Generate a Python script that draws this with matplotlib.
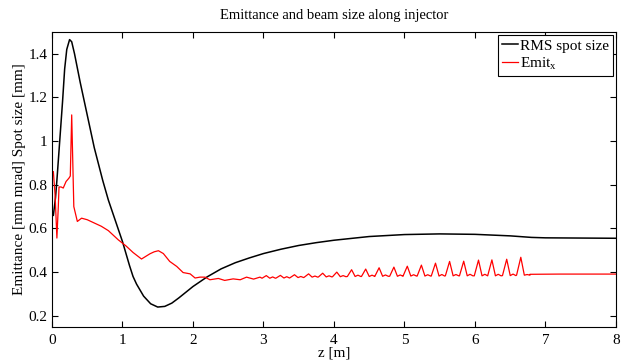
import matplotlib
matplotlib.use("Agg")
import matplotlib.pyplot as plt

plt.rcParams["font.family"] = ["Liberation Serif", "DejaVu Serif"]
plt.rcParams["mathtext.fontset"] = "custom"
plt.rcParams["mathtext.rm"] = "Liberation Serif"

# RMS spot size [mm] vs z [m]
rms_z = [0.02, 0.05, 0.07, 0.11, 0.15, 0.18, 0.21, 0.25, 0.28, 0.32, 0.4, 0.5,
         0.6, 0.72, 0.8, 0.9, 1.0, 1.1, 1.15, 1.2, 1.3, 1.4, 1.5, 1.6, 1.7, 1.8,
         1.9, 2.0, 2.2, 2.4, 2.6, 2.8, 3.0, 3.25, 3.5, 3.75, 4.0, 4.5, 5.0, 5.5,
         6.0, 6.5, 6.8, 7.0, 8.0]
rms_v = [0.66, 0.74, 0.82, 1.0, 1.18, 1.33, 1.42, 1.465, 1.455, 1.40, 1.27, 1.12,
         0.97, 0.82, 0.73, 0.635, 0.54, 0.43, 0.38, 0.345, 0.29, 0.255, 0.24, 0.243,
         0.258, 0.282, 0.308, 0.334, 0.378, 0.415, 0.443, 0.465, 0.485, 0.505,
         0.522, 0.535, 0.546, 0.563, 0.572, 0.575, 0.573, 0.566, 0.559, 0.557, 0.555]

# Emittance x [mm mrad], first part up to the ripples
emit_z = [0.02, 0.045, 0.07, 0.09, 0.1, 0.13, 0.16, 0.2, 0.24, 0.26, 0.28, 0.31,
          0.34, 0.36, 0.42, 0.5, 0.6, 0.7, 0.8, 0.94, 1.05, 1.15, 1.27, 1.39,
          1.45, 1.51, 1.58, 1.67, 1.77, 1.86, 1.96, 2.03, 2.1, 2.17, 2.24, 2.36,
          2.45, 2.57, 2.67, 2.76, 2.86, 2.95]
emit_v = [0.86, 0.75, 0.556, 0.70, 0.79, 0.79, 0.785, 0.815, 0.83, 0.84, 1.12, 0.70,
          0.66, 0.632, 0.647, 0.64, 0.625, 0.61, 0.59, 0.548, 0.52, 0.49, 0.46, 0.484,
          0.493, 0.498, 0.485, 0.449, 0.426, 0.398, 0.392, 0.373, 0.377, 0.377,
          0.365, 0.371, 0.362, 0.369, 0.365, 0.377, 0.368, 0.377]

# ripple section: peak positions and heights, trough / side-bump values after each
peak_z = [3.04, 3.24, 3.44, 3.64, 3.84, 4.04, 4.25, 4.45, 4.64, 4.85, 5.04, 5.24,
          5.44, 5.64, 5.84, 6.05, 6.24, 6.45, 6.65]
peak_v = [0.384, 0.385, 0.388, 0.392, 0.395, 0.400, 0.411, 0.414, 0.420, 0.423,
          0.427, 0.432, 0.441, 0.449, 0.450, 0.455, 0.456, 0.459, 0.468]
trough_v = [0.372, 0.373, 0.375, 0.377, 0.378, 0.379, 0.380, 0.380, 0.381, 0.381,
            0.382, 0.382, 0.382, 0.383, 0.383, 0.383, 0.383, 0.384, 0.386]
bump_v = [0.378, 0.379, 0.380, 0.382, 0.383, 0.384, 0.386, 0.386, 0.387, 0.387,
          0.388, 0.388, 0.389, 0.389, 0.390, 0.390, 0.390, 0.391, 0.389]

tail_z = [6.78, 7.2, 8.0]
tail_v = [0.390, 0.391, 0.391]

z2 = list(emit_z)
v2 = list(emit_v)
for pz, pv, tv, bv in zip(peak_z, peak_v, trough_v, bump_v):
    z2 += [pz - 0.06, pz, pz + 0.05, pz + 0.09, pz + 0.13]
    v2 += [tv, pv, tv, bv, tv]
z2 += tail_z
v2 += tail_v

fig = plt.figure(figsize=(6.26, 3.63), dpi=100)
ax = fig.add_axes([0.083, 0.100, 0.901, 0.812])
ax.plot(rms_z, rms_v, color="black", lw=1.1, label="RMS spot size")
ax.plot(z2, v2, color="#ff0000", lw=0.9, label="Emit$_{\\rm x}$")

ax.set_xlim(0, 8)
ax.set_ylim(0.15, 1.5)
ax.set_yticks([0.2, 0.4, 0.6, 0.8, 1.0, 1.2, 1.4])
ax.set_yticklabels(["0.2", "0.4", "0.6", "0.8", "1", "1.2", "1.4"])
ax.set_xticks(range(0, 9))
ax.tick_params(direction="in", top=True, right=True, length=4, width=0.8,
               labelsize=11)
ax.tick_params(axis="x", pad=5)
ax.tick_params(axis="y", pad=3)
for s in ax.spines.values():
    s.set_linewidth(0.8)

ax.set_title("Emittance and beam size along injector", fontsize=10.5, pad=9)
ax.set_xlabel("z [m]", fontsize=11, labelpad=0)
ax.set_ylabel("Emittance [mm mrad] Spot size [mm]", fontsize=11, labelpad=2)

leg = ax.legend(loc="upper right", fontsize=11, handlelength=1.05,
                handletextpad=0.15, borderpad=0.25, labelspacing=0.2,
                borderaxespad=0.2, fancybox=False, framealpha=1)
leg.get_frame().set_edgecolor("black")
leg.get_frame().set_linewidth(0.8)

fig.savefig("out.png", dpi=100)
